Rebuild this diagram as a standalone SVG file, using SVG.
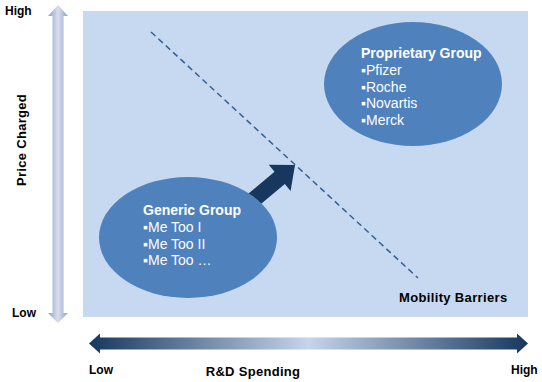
<svg xmlns="http://www.w3.org/2000/svg" width="542" height="382" viewBox="0 0 542 382">
<style>
.lbl{font-family:"Liberation Sans",Arial,sans-serif;font-weight:bold;font-size:13px;fill:#000}
.ttl{font-family:"Liberation Sans",Arial,sans-serif;font-weight:bold;font-size:14px;fill:#fff}
.itm{font-family:"Liberation Sans",Arial,sans-serif;font-size:14px;fill:#fff}
.blob{fill:#4F81BD}
</style>
<defs>
<linearGradient id="vg" x1="0" y1="0" x2="1" y2="0">
<stop offset="0" stop-color="#8FA0C4"/>
<stop offset="0.5" stop-color="#D8E0EF"/>
<stop offset="1" stop-color="#8FA0C4"/>
</linearGradient>
<linearGradient id="hg" x1="0" y1="0" x2="1" y2="0">
<stop offset="0" stop-color="#17375E"/>
<stop offset="0.5" stop-color="#C6D4EC"/>
<stop offset="1" stop-color="#17375E"/>
</linearGradient>
</defs>
<rect x="83" y="11" width="445" height="306" fill="#C6D9F0"/>
<g id="axes">
<polygon points="58,5 68,16 63.5,16 63.5,313 68,313 58,323 48,313 52.5,313 52.5,16 48,16" fill="url(#vg)"/>
<polygon points="89,343.5 100,333.5 100,337.5 517,337.5 517,333.5 528,343.5 517,353.5 517,349.5 100,349.5 100,353.5" fill="url(#hg)"/>
<text class="lbl" x="5" y="15" style="font-size:12px">High</text>
<text class="lbl" x="12" y="317" style="font-size:12px">Low</text>
<text class="lbl" x="89" y="374" style="font-size:12px">Low</text>
<text class="lbl" x="511" y="374" style="font-size:12px">High</text>
<text class="lbl" x="253" y="376" text-anchor="middle" letter-spacing="0.3">R&amp;D Spending</text>
<text class="lbl" transform="translate(26,140) rotate(-90)" text-anchor="middle" letter-spacing="0.3">Price Charged</text>
</g>
<g id="connectors">
<line x1="151" y1="32" x2="418" y2="278" stroke="#376092" stroke-width="1.5" stroke-dasharray="6,4"/>
<polygon transform="translate(295,165) rotate(-40)" points="0,0 -20,-17 -20,-8 -75,-8 -75,8 -20,8 -20,17" fill="#17375E"/>
</g>
<g id="mobility-barriers">
<text class="lbl" x="399" y="302" letter-spacing="0.35">Mobility Barriers</text>
</g>
<g id="generic-group">
<ellipse class="blob" cx="188" cy="237.5" rx="89" ry="60.5"/>
<text class="ttl" x="143" y="215">Generic Group</text>
<text class="itm" x="143" y="232">▪Me Too I</text>
<text class="itm" x="143" y="248.5">▪Me Too II</text>
<text class="itm" x="143" y="265">▪Me Too …</text>
</g>
<g id="proprietary-group">
<ellipse class="blob" cx="413" cy="84" rx="89" ry="62"/>
<text class="ttl" x="361" y="58">Proprietary Group</text>
<text class="itm" x="361" y="75">▪Pfizer</text>
<text class="itm" x="361" y="91.5">▪Roche</text>
<text class="itm" x="361" y="108">▪Novartis</text>
<text class="itm" x="361" y="124.5">▪Merck</text>
</g>
</svg>
